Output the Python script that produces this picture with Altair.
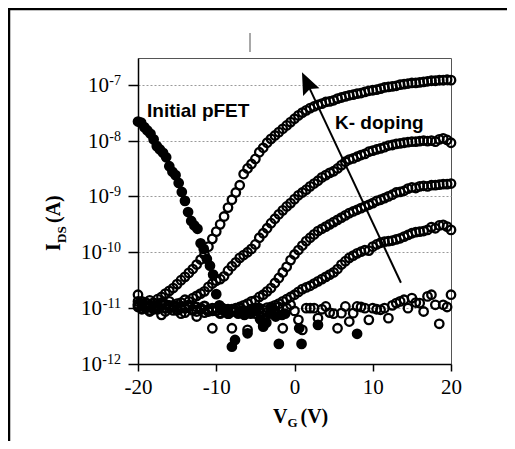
import altair as alt
import pandas as pd

# ---------------- data ----------------
# gate-voltage sweep of the K-doped curves (V)
VG = [-20.0, -19.5, -19.0, -18.5, -18.0, -17.5, -17.0, -16.5, -16.0, -15.5,
      -15.0, -14.5, -14.0, -13.5, -13.0, -12.5, -12.0, -11.5, -11.0, -10.5,
      -10.0, -9.5, -9.0, -8.5, -8.0, -7.5, -7.0, -6.5, -6.0, -5.5,
      -5.0, -4.5, -4.0, -3.5, -3.0, -2.5, -2.0, -1.5, -1.0, -0.5,
      0.0, 0.5, 1.0, 1.5, 2.0, 2.5, 3.0, 3.5, 4.0, 4.5,
      5.0, 5.5, 6.0, 6.5, 7.0, 7.5, 8.0, 8.5, 9.0, 9.5,
      10.0, 10.5, 11.0, 11.5, 12.0, 12.5, 13.0, 13.5, 14.0, 14.5,
      15.0, 15.5, 16.0, 16.5, 17.0, 17.5, 18.0, 18.5, 19.0, 19.5,
      20.0]

# log10(I_DS / A) for each doping step (most doped first)
LOG_A = [-10.76, -10.88, -10.92, -10.86, -10.90, -10.84, -10.80, -10.74, -10.69, -10.64,
         -10.57, -10.50, -10.44, -10.37, -10.30, -10.22, -10.13, -10.04, -9.90, -9.76,
         -9.63, -9.50, -9.36, -9.20, -9.06, -8.93, -8.80, -8.60, -8.50, -8.42,
         -8.33, -8.21, -8.13, -8.04, -7.97, -7.91, -7.85, -7.79, -7.73, -7.67,
         -7.61, -7.55, -7.50, -7.46, -7.42, -7.39, -7.36, -7.34, -7.31, -7.30,
         -7.28, -7.25, -7.23, -7.21, -7.19, -7.18, -7.16, -7.15, -7.13, -7.11,
         -7.10, -7.09, -7.07, -7.05, -7.04, -7.03, -7.02, -7.00, -6.99, -6.98,
         -6.97, -6.97, -6.96, -6.95, -6.94, -6.93, -6.93, -6.92, -6.92, -6.91,
         -6.92]
LOG_B = [-10.88, -10.95, -10.90, -10.98, -10.92, -10.95, -10.90, -10.93, -10.88, -10.95,
         -10.92, -10.90, -10.85, -10.88, -10.82, -10.78, -10.74, -10.70, -10.62, -10.56,
         -10.51, -10.48, -10.43, -10.33, -10.25, -10.18, -10.10, -10.05, -10.00, -9.94,
         -9.86, -9.74, -9.66, -9.57, -9.48, -9.40, -9.32, -9.25, -9.18, -9.12,
         -9.05, -8.98, -8.93, -8.88, -8.82, -8.77, -8.72, -8.66, -8.62, -8.58,
         -8.55, -8.50, -8.44, -8.38, -8.34, -8.32, -8.29, -8.26, -8.24, -8.20,
         -8.18, -8.16, -8.14, -8.12, -8.09, -8.08, -8.06, -8.05, -8.04, -8.03,
         -8.02, -8.02, -8.01, -8.00, -8.01, -8.00, -8.02, -7.98, -7.96, -7.99,
         -8.04]
LOG_C = [-10.98, -10.92, -11.00, -10.95, -11.02, -10.96, -10.93, -11.00, -10.95, -10.98,
         -11.02, -10.96, -11.00, -10.94, -11.02, -10.98, -11.03, -10.96, -11.05, -11.00,
         -11.04, -10.98, -11.05, -11.02, -11.06, -11.00, -10.98, -10.95, -10.92, -10.88,
         -10.86, -10.80, -10.76, -10.70, -10.64, -10.55, -10.46, -10.36, -10.26, -10.14,
         -10.04, -9.96, -9.88, -9.80, -9.74, -9.68, -9.62, -9.58, -9.54, -9.50,
         -9.46, -9.42, -9.38, -9.34, -9.30, -9.27, -9.24, -9.21, -9.18, -9.15,
         -9.12, -9.08, -9.06, -9.03, -9.00, -8.97, -8.93, -8.92, -8.90, -8.86,
         -8.84, -8.85, -8.82, -8.81, -8.82, -8.80, -8.80, -8.79, -8.78, -8.78,
         -8.77]
LOG_D = [-10.93, -11.00, -10.96, -11.04, -10.98, -11.02, -10.95, -11.06, -11.00, -10.97,
         -11.04, -11.00, -11.08, -10.98, -11.03, -11.06, -11.00, -11.08, -11.02, -11.05,
         -11.00, -11.08, -11.04, -11.10, -11.02, -11.06, -11.00, -11.04, -11.08, -11.02,
         -11.05, -11.00, -11.03, -10.99, -10.98, -10.95, -10.92, -10.88, -10.84, -10.80,
         -10.76, -10.71, -10.66, -10.63, -10.60, -10.56, -10.52, -10.48, -10.44, -10.40,
         -10.36, -10.30, -10.22, -10.16, -10.10, -10.06, -10.02, -9.99, -9.96, -9.97,
         -9.90, -9.86, -9.83, -9.81, -9.80, -9.79, -9.77, -9.75, -9.72, -9.69,
         -9.66, -9.64, -9.63, -9.62, -9.60, -9.55, -9.57, -9.52, -9.51, -9.54,
         -9.60]
LOG_E = [-10.95, -11.02, -10.97, -11.06, -10.98, -11.00, -11.12, -11.00, -10.96, -11.04,
         -10.98, -11.10, -11.00, -10.95, -11.04, -11.15, -11.00, -10.97, -11.06, -11.36,
         -11.05, -11.10, -11.02, -11.08, -11.36, -11.05, -11.00, -11.10, -11.39, -11.05,
         -11.10, -11.02, -11.33, -11.08, -11.00, -11.05, -10.98, -11.36, -11.00, -10.94,
         -11.05, -11.21, -11.39, -11.00, -11.00, -11.00, -11.18, -11.02, -10.97, -11.08,
         -11.10, -11.36, -11.09, -10.97, -11.24, -11.09, -10.97, -10.98, -11.00, -11.21,
         -11.00, -11.02, -11.03, -11.00, -11.18, -10.95, -10.91, -10.88, -10.85, -11.00,
         -10.82, -10.90, -10.91, -11.06, -10.79, -10.76, -10.94, -11.28, -10.94, -10.98,
         -10.76]

# initial pFET (filled symbols)
PFET_VG = [-20.0, -19.6, -19.2, -18.8, -18.4, -18.0, -17.6, -17.2, -16.8, -16.4,
           -16.0, -15.6, -15.2, -14.8, -14.4, -14.0, -13.6, -13.2, -12.8, -12.4,
           -12.0, -11.6, -11.2, -10.8, -10.4, -10.0, -9.6, -9.2, -8.8, -8.4,
           -8.0, -7.6, -7.2, -6.8, -6.4, -6.0, -5.6, -5.2, -4.8, -4.4,
           -4.0, -3.6, -3.2, -2.8, -2.4, -2.0, -1.6, -1.2, 0.6, 0.9,
           3.0, 8.0]
PFET_LOG = [-7.66, -7.68, -7.76, -7.82, -7.88, -7.98, -8.10, -8.16, -8.22, -8.30,
            -8.46, -8.56, -8.62, -8.76, -8.92, -9.08, -9.28, -9.44, -9.52, -9.58,
            -9.84, -9.94, -10.12, -10.24, -10.40, -10.75, -10.95, -11.00, -11.05, -11.10,
            -11.69, -11.57, -11.10, -11.05, -11.12, -11.45, -11.10, -11.05, -11.00, -11.20,
            -11.30, -11.26, -11.10, -11.00, -11.15, -11.64, -11.12, -11.10, -11.36, -11.64,
            -11.30, -11.46]

X_TICKS = [-20, -10, 0, 10, 20]
Y_DECADES = [-12, -11, -10, -9, -8, -7]

# arrow "K- doping" (tail -> head), in data units
ARROW_TAIL = (13.6, 2.85e-11)
ARROW_HEAD = (1.55, 1.11e-7)

# ---------------- tables ----------------
rows = []
for name, logs in [("a", LOG_A), ("b", LOG_B), ("c", LOG_C), ("d", LOG_D), ("e", LOG_E)]:
    assert len(logs) == len(VG)
    for v, l in zip(VG, logs):
        rows.append({"series": name, "vg": v, "ids": 10.0 ** l})
doped = pd.DataFrame(rows)
assert len(PFET_VG) == len(PFET_LOG)
pfet = pd.DataFrame({"vg": PFET_VG, "ids": [10.0 ** l for l in PFET_LOG]})
ticks = pd.DataFrame({"ids": [10.0 ** e for e in Y_DECADES],
                      "sup": [str(e) for e in Y_DECADES],
                      "base": ["10"] * len(Y_DECADES)})
arrow = pd.DataFrame({"vg": [ARROW_TAIL[0]], "ids": [ARROW_TAIL[1]],
                      "vg2": [ARROW_HEAD[0]], "ids2": [ARROW_HEAD[1]]})
head = pd.DataFrame({"vg": [ARROW_HEAD[0]], "ids": [ARROW_HEAD[1]]})
one = pd.DataFrame({"k": [0]})

# ---------------- styling ----------------
SERIF = "Liberation Serif"
SANS = "Liberation Sans"
W, H = 313, 306

xs = alt.Scale(domain=[-20, 20], nice=False, zero=False)
ys = alt.Scale(type="log", domain=[1e-12, 3e-7], nice=False)

x_axis = alt.Axis(values=X_TICKS, title=None, labelFont=SERIF, labelFontSize=21,
                  labelColor="black", labelExpr="'' + datum.value", labelFlush=False,
                  labelOverlap=False, labelPadding=5, tickSize=7, tickColor="black",
                  tickWidth=1.5, domainColor="black", domainWidth=1.5, grid=False)
y_axis = alt.Axis(values=[10.0 ** e for e in Y_DECADES], title=None, labels=False,
                  tickSize=10, tickColor="black", tickWidth=1.5, domainColor="black",
                  domainWidth=1.5, grid=True, gridColor="#9a9a9a", gridDash=[2, 2],
                  gridWidth=1)

X = alt.X("vg:Q", scale=xs, axis=x_axis)
Y = alt.Y("ids:Q", scale=ys, axis=y_axis)

open_pts = alt.Chart(doped).mark_point(
    shape="circle", filled=False, size=72, strokeWidth=2.3, color="black", opacity=1
).encode(x=X, y=Y, detail="series:N")

filled_pts = alt.Chart(pfet).mark_point(
    shape="circle", filled=True, size=115, color="black", opacity=1, strokeWidth=0
).encode(x=X, y=Y)

arrow_line = alt.Chart(arrow).mark_rule(color="black", strokeWidth=2).encode(
    x=X, y=Y, x2="vg2:Q", y2="ids2:Q")
arrow_head = alt.Chart(head).mark_point(
    shape="M0,-1L0.82,1L0,0.7L-0.82,1Z", filled=True, size=484, angle=335,
    color="black", opacity=1, strokeWidth=0
).encode(x=X, y=Y)

# y tick labels 10^n, drawn as "10" plus a raised exponent
base_one = alt.Chart(ticks).transform_filter("length(datum.sup) == 2").mark_text(
    font=SERIF, fontSize=21, align="right", baseline="alphabetic", dy=7, color="black"
).encode(x=alt.value(-29), y=Y, text="base:N")
base_two = alt.Chart(ticks).transform_filter("length(datum.sup) == 3").mark_text(
    font=SERIF, fontSize=21, align="right", baseline="alphabetic", dy=7, color="black"
).encode(x=alt.value(-36), y=Y, text="base:N")
sup = alt.Chart(ticks).mark_text(
    font=SERIF, fontSize=14, align="right", baseline="alphabetic", dy=0, color="black"
).encode(x=alt.value(-17), y=Y, text="sup:N")


def label(txt, x, y, size, font=SERIF, weight="bold", angle=0):
    return alt.Chart(one).mark_text(
        text=txt, font=font, fontSize=size, fontWeight=weight, align="left",
        baseline="alphabetic", angle=angle, color="black"
    ).encode(x=alt.value(x), y=alt.value(y))


# axis titles: V_G (V) and I_DS (A)
xt1 = label("V", 135, 365, 20)
xt2 = label("G", 149.5, 369, 13)
xt3 = label("(V)", 162.5, 365, 20)
yt1 = label("I", -78, 193, 20, angle=270)
yt2 = label("DS", -72, 185, 13, angle=270)
yt3 = label("(A)", -78, 165, 20, angle=270)

ann1 = label("Initial pFET", 9, 59, 19, font=SANS)
ann2 = label("K- doping", 197, 71, 19, font=SANS)

# page frame (top and left edges) and the small gray mark above the plot
frame_top = alt.Chart(one).mark_rule(color="black", strokeWidth=2.5).encode(
    x=alt.value(-131), x2=alt.value(420), y=alt.value(-49))
frame_left = alt.Chart(one).mark_rule(color="black", strokeWidth=2.5).encode(
    x=alt.value(-129), y=alt.value(-51), y2=alt.value(420))
gray_mark = alt.Chart(one).mark_rule(color="#a8a8a8", strokeWidth=2).encode(
    x=alt.value(112), y=alt.value(-25), y2=alt.value(-6))

chart = alt.layer(
    open_pts, filled_pts, arrow_line, arrow_head,
    base_one, base_two, sup,
    xt1, xt2, xt3, yt1, yt2, yt3, ann1, ann2,
    frame_top, frame_left, gray_mark,
).properties(
    width=W, height=H,
    padding={"left": 130, "top": 50, "right": 56, "bottom": 77},
    autosize=alt.AutoSizeParams(type="none"),
    background="white",
).configure_view(stroke="#555555", strokeWidth=1)

chart.save("out.html", embed_options={"renderer": "svg", "actions": False})
